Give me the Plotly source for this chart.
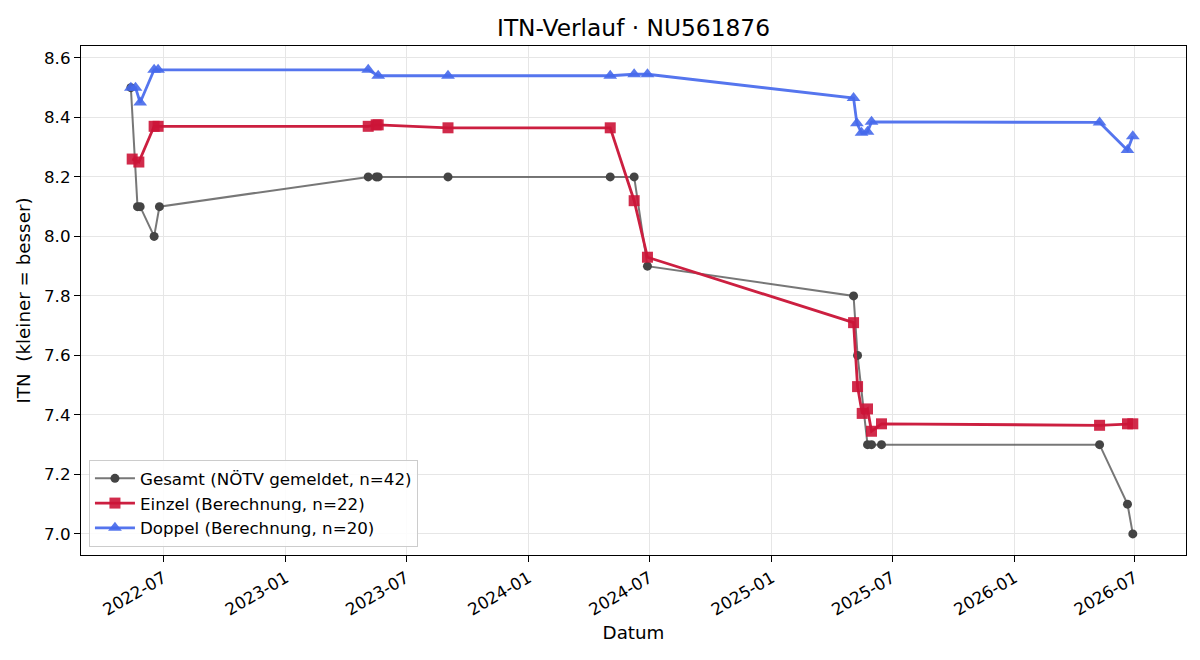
import plotly.graph_objects as go

# ---- data ----
gesamt_dates = ["2022-05-13", "2022-05-23", "2022-05-27", "2022-06-17", "2022-06-25",
                "2023-05-05", "2023-05-17", "2023-05-20", "2023-09-02", "2024-05-03",
                "2024-06-08", "2024-06-28", "2025-05-04", "2025-05-10", "2025-05-25",
                "2025-05-31", "2025-06-15", "2026-05-09", "2026-06-20", "2026-06-28"]
gesamt_vals = [8.5, 8.1, 8.1, 8.0, 8.1,
               8.2, 8.2, 8.2, 8.2, 8.2,
               8.2, 7.9, 7.8, 7.6, 7.3,
               7.3, 7.3, 7.3, 7.1, 7.0]

einzel_dates = ["2022-05-15", "2022-05-25", "2022-06-17", "2022-06-23", "2023-05-05",
                "2023-05-17", "2023-05-20", "2023-09-02", "2024-05-03", "2024-06-08",
                "2024-06-28", "2025-05-04", "2025-05-10", "2025-05-17", "2025-05-25",
                "2025-05-31", "2025-06-15", "2026-05-09", "2026-06-20", "2026-06-28"]
einzel_vals = [8.26, 8.25, 8.37, 8.37, 8.37,
               8.375, 8.375, 8.365, 8.365, 8.12,
               7.93, 7.71, 7.495, 7.405, 7.42,
               7.345, 7.37, 7.365, 7.37, 7.37]

doppel_dates = ["2022-05-13", "2022-05-20", "2022-05-27", "2022-06-17", "2022-06-23",
                "2023-05-05", "2023-05-20", "2023-09-02", "2024-05-03", "2024-06-08",
                "2024-06-28", "2025-05-04", "2025-05-09", "2025-05-16", "2025-05-25",
                "2025-05-31", "2026-05-09", "2026-06-20", "2026-06-28"]
doppel_vals = [8.5, 8.5, 8.45, 8.56, 8.56,
               8.56, 8.54, 8.54, 8.54, 8.545,
               8.545, 8.465, 8.38, 8.348, 8.352,
               8.385, 8.383, 8.29, 8.337]

tick_dates = ["2022-07-01", "2023-01-01", "2023-07-01", "2024-01-01", "2024-07-01",
              "2025-01-01", "2025-07-01", "2026-01-01", "2026-07-01"]
tick_labels = ["2022-07", "2023-01", "2023-07", "2024-01", "2024-07",
               "2025-01", "2025-07", "2026-01", "2026-07"]
y_ticks = [7.0, 7.2, 7.4, 7.6, 7.8, 8.0, 8.2, 8.4, 8.6]

FONT = "DejaVu Sans, Verdana, sans-serif"
FS = 16.7
FL = 18.3

fig = go.Figure()
fig.add_trace(go.Scatter(
    x=gesamt_dates, y=gesamt_vals, mode="lines+markers",
    name="Gesamt (NÖTV gemeldet, n=42)",
    line=dict(color="rgba(85,85,85,0.8)", width=2),
    marker=dict(symbol="circle", size=9, color="#444444"),
))
fig.add_trace(go.Scatter(
    x=einzel_dates, y=einzel_vals, mode="lines+markers",
    name="Einzel (Berechnung, n=22)",
    line=dict(color="#cc1f40", width=2.8),
    marker=dict(symbol="square", size=11, color="rgba(204,20,55,0.9)"),
))
fig.add_trace(go.Scatter(
    x=doppel_dates, y=doppel_vals, mode="lines+markers",
    name="Doppel (Berechnung, n=20)",
    line=dict(color="#5575ee", width=2.8),
    marker=dict(symbol="triangle-up", size=12, color="rgba(70,105,235,0.9)"),
))

fig.update_layout(
    width=1200, height=660,
    margin=dict(l=81, r=14, t=46, b=105),
    paper_bgcolor="white", plot_bgcolor="white",
    font=dict(family=FONT, size=FS, color="black"),
    title=dict(text="ITN-Verlauf · NU561876", x=0.5, xref="paper",
               y=1 - 28 / 660, yanchor="middle", yref="container",
               font=dict(size=23.3, family=FONT, color="black")),
    showlegend=True,
    legend=dict(x=0.0072, y=0.0157, xanchor="left", yanchor="bottom",
                bgcolor="rgba(255,255,255,0.85)", bordercolor="#cccccc",
                borderwidth=1, font=dict(size=FS, family=FONT),
                tracegroupgap=0, itemwidth=40),
)
fig.update_xaxes(
    type="date", range=["2022-02-27", "2026-09-16"],
    tickmode="array", tickvals=tick_dates, ticktext=tick_labels,
    tickangle=-30, ticks="outside", ticklen=6, tickcolor="black",
    showline=True, linecolor="black", linewidth=1.2, mirror=True,
    showgrid=True, gridcolor="#e6e6e6", gridwidth=1, zeroline=False,
    tickfont=dict(size=FS, family=FONT),
    title=dict(text="Datum", font=dict(size=FL, family=FONT), standoff=7),
)
fig.update_yaxes(
    range=[6.929, 8.640],
    tickmode="array", tickvals=y_ticks, ticktext=[f"{v:.1f}" for v in y_ticks],
    ticks="outside", ticklen=6, tickcolor="black",
    showline=True, linecolor="black", linewidth=1.2, mirror=True,
    showgrid=True, gridcolor="#e6e6e6", gridwidth=1, zeroline=False,
    tickfont=dict(size=FS, family=FONT),
    title=dict(text="ITN\u00a0 (kleiner = besser)", font=dict(size=FL, family=FONT), standoff=8),
)

fig.write_html("out.html")
